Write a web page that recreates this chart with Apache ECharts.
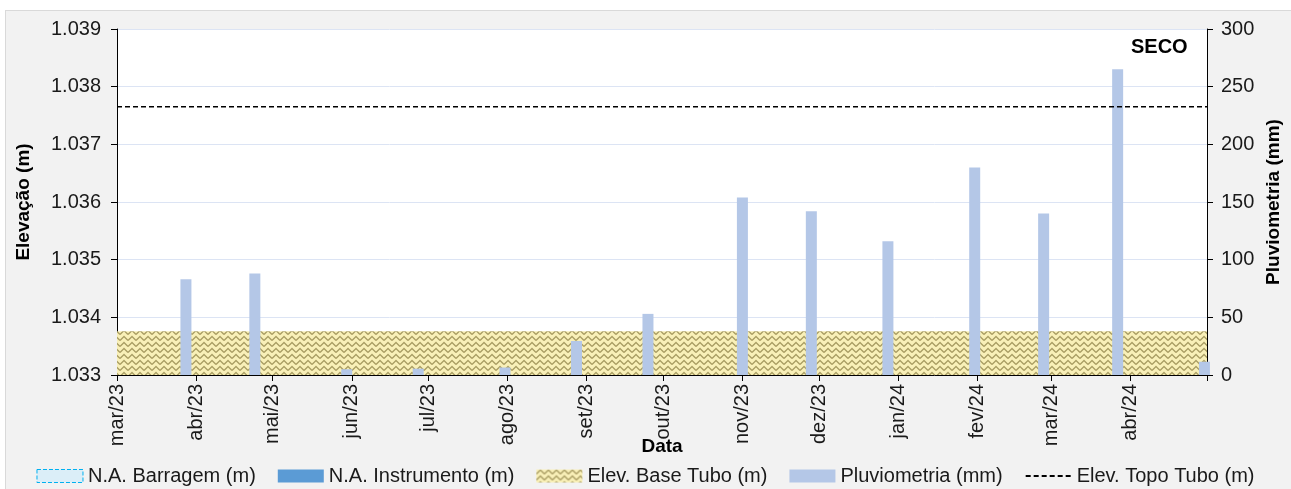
<!DOCTYPE html>
<html>
<head>
<meta charset="utf-8">
<script src="https://cdn.jsdelivr.net/npm/echarts@6.0.0/dist/echarts.min.js"></script>
<style>
    html, body { margin: 0; padding: 0; background: #fff; }
    #panel { position: absolute; left: 5px; top: 10px; width: 1290px; height: 485px; background: #f2f2f2; border: 1px solid #d9d9d9; box-sizing: border-box; }
    #main { position: absolute; left: 0; top: 0; width: 1291px; height: 489px; }
</style>
</head>
<body>
<div id="panel"></div>
<div id="main"></div>
<script>
// eixo X (inicio de cada mes)
const tickDates = ['2023-03-01', '2023-04-01', '2023-05-01', '2023-06-01', '2023-07-01', '2023-08-01', '2023-09-01',
    '2023-10-01', '2023-11-01', '2023-12-01', '2024-01-01', '2024-02-01', '2024-03-01', '2024-04-01', '2024-05-01'];
const monthLabels = ['mar/23', 'abr/23', 'mai/23', 'jun/23', 'jul/23', 'ago/23', 'set/23',
    'out/23', 'nov/23', 'dez/23', 'jan/24', 'fev/24', 'mar/24', 'abr/24'];

// pluviometria (mm)
const rainDates = ['2023-03-28', '2023-04-24', '2023-05-30', '2023-06-27', '2023-07-31', '2023-08-28', '2023-09-25',
    '2023-11-01', '2023-11-28', '2023-12-28', '2024-01-31', '2024-02-27', '2024-03-27', '2024-04-30'];
const rainValues = [83, 88, 5, 5.5, 6.5, 29.5, 53, 154, 142, 116, 180, 140, 265, 11.5];

// elevacoes (m)
const baseTubo = 1.03376;
const topoTubo = 1.03765;
const naBarragem = [];
const naInstrumento = [];

const yLeftTicks = [1.033, 1.039, 0.001];
const yRightTicks = [0, 300, 50];

function d(s) {
    let p = s.split('-');
    return Date.UTC(+p[0], +p[1] - 1, +p[2]);
}

const tickTs = tickDates.map(d);
const xMin = tickTs[0], xMax = tickTs[tickTs.length - 1];

// textura da base do tubo
function hatch() {
    let c = document.createElement('canvas');
    c.width = 8; c.height = 6;
    let ctx = c.getContext('2d');
    ctx.fillStyle = '#f9f0b8';
    ctx.fillRect(0, 0, 8, 6);
    ctx.strokeStyle = '#a89c62';
    ctx.lineWidth = 1.3;
    for (let y = -6; y <= 6; y += 6) {
        ctx.beginPath();
        ctx.moveTo(0, y + 4.5);
        ctx.lineTo(4, y + 0.5);
        ctx.lineTo(8, y + 4.5);
        ctx.stroke();
    }
    return { image: c, repeat: 'repeat' };
}
const hatchFill = hatch();

let myChart = echarts.init(document.getElementById('main'));
let font = 'Liberation Sans, Arial, sans-serif';
let option = {
    backgroundColor: 'transparent',
    textStyle: { fontFamily: font },
    grid: {
        left: 117,
        right: 81,
        top: 29,
        bottom: 114,
        show: true,
        backgroundColor: '#fff',
        borderWidth: 0
    },
    graphic: [{
        type: 'text',
        left: 1131,
        top: 37,
        style: { text: 'SECO', font: 'bold 20px ' + font, fill: '#000' }
    }],
    legend: {
        top: 461,
        left: 'center',
        itemWidth: 46,
        itemHeight: 13,
        itemGap: 22,
        textStyle: { fontSize: 20, color: '#1a1a1a', fontFamily: font },
        data: [
            { name: 'N.A. Barragem (m)', icon: 'rect', itemStyle: { color: '#dbeef8', borderColor: '#00b0f0', borderWidth: 1, borderType: 'dashed' } },
            { name: 'N.A. Instrumento (m)', icon: 'rect', itemStyle: { color: '#5b9bd5' } },
            { name: 'Elev. Base Tubo (m)', icon: 'rect', itemStyle: { color: hatchFill } },
            { name: 'Pluviometria (mm)', icon: 'rect', itemStyle: { color: '#b4c7e7' } },
            { name: 'Elev. Topo Tubo (m)', itemStyle: { opacity: 0 } }
        ]
    },
    xAxis: {
        type: 'value',
        min: xMin,
        max: xMax,
        name: 'Data',
        nameLocation: 'middle',
        nameGap: 62,
        nameMoveOverlap: false,
        nameTextStyle: { fontSize: 19, fontWeight: 'bold', color: '#000' },
        axisLine: { lineStyle: { color: '#000', width: 1 } },
        axisTick: { show: true, length: 6, lineStyle: { color: '#000' }, customValues: tickTs },
        axisLabel: {
            rotate: 90,
            margin: 9,
            fontSize: 20,
            color: '#1a1a1a',
            customValues: tickTs.slice(0, monthLabels.length),
            formatter: function (v) {
                let i = tickTs.indexOf(v);
                return i >= 0 && i < monthLabels.length ? monthLabels[i] : '';
            }
        },
        splitLine: { show: false }
    },
    yAxis: [{
        type: 'value',
        min: yLeftTicks[0],
        max: yLeftTicks[1],
        interval: yLeftTicks[2],
        name: 'Elevação (m)',
        nameLocation: 'middle',
        nameGap: 84,
        nameMoveOverlap: false,
        nameTextStyle: { fontSize: 19, fontWeight: 'bold', color: '#000' },
        axisLine: { show: true, lineStyle: { color: '#000' } },
        axisTick: { show: true, length: 6, lineStyle: { color: '#000' } },
        axisLabel: {
            fontSize: 20,
            color: '#1a1a1a',
            margin: 16,
            formatter: function (v) { return v.toFixed(3); }
        },
        splitLine: { show: true, lineStyle: { color: '#dce4f4', width: 1 } }
    }, {
        type: 'value',
        min: yRightTicks[0],
        max: yRightTicks[1],
        interval: yRightTicks[2],
        position: 'right',
        name: 'Pluviometria (mm)',
        nameLocation: 'middle',
        nameGap: 57,
        nameMoveOverlap: false,
        nameTextStyle: { fontSize: 19, fontWeight: 'bold', color: '#000' },
        axisLine: { show: true, lineStyle: { color: '#000' } },
        axisTick: { show: true, length: 6, lineStyle: { color: '#000' } },
        axisLabel: { fontSize: 20, color: '#1a1a1a', margin: 14 },
        splitLine: { show: false }
    }],
    series: [
        {
            name: 'N.A. Barragem (m)',
            type: 'line',
            data: naBarragem
        },
        {
            name: 'N.A. Instrumento (m)',
            type: 'line',
            data: naInstrumento
        },
        {
            name: 'Elev. Base Tubo (m)',
            type: 'line',
            symbol: 'none',
            z: 2,
            lineStyle: { width: 0 },
            itemStyle: { color: hatchFill },
            areaStyle: { color: hatchFill, origin: 'start', opacity: 1 },
            data: [[xMin, baseTubo], [xMax, baseTubo]]
        },
        {
            name: 'Pluviometria (mm)',
            type: 'bar',
            yAxisIndex: 1,
            barWidth: 11,
            z: 3,
            itemStyle: { color: '#b4c7e7' },
            data: rainDates.map((s, i) => [d(s), rainValues[i]])
        },
        {
            name: 'Elev. Topo Tubo (m)',
            type: 'line',
            symbol: 'none',
            z: 4,
            itemStyle: { color: '#000' },
            lineStyle: { color: '#000', width: 1.5, type: [5, 3] },
            data: [[xMin, topoTubo], [xMax, topoTubo]]
        }
    ]
};
myChart.setOption(option);
</script>
</body>
</html>
